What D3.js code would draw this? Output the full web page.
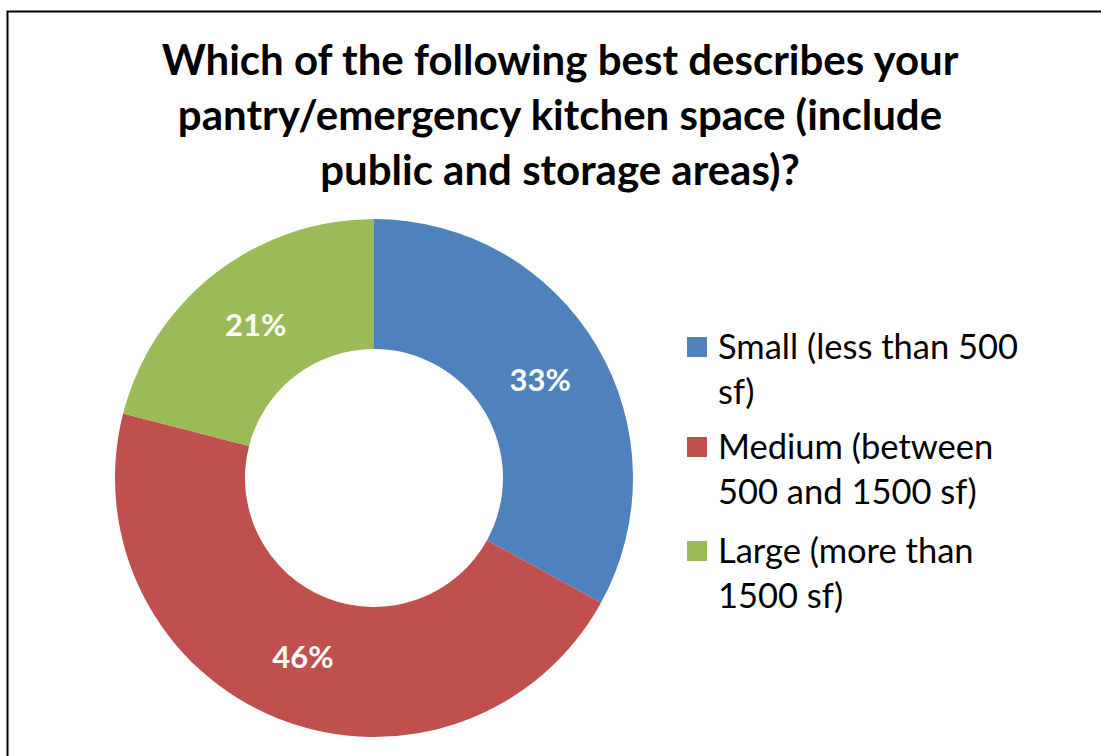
<!DOCTYPE html>
<html><head><meta charset="utf-8">
<script src="https://cdn.jsdelivr.net/npm/d3@7"></script>
<style>body{margin:0;background:#fff}svg{display:block}</style>
</head><body>
<svg id="c" width="1101" height="756"></svg>
<script>
const categories = ["Small (less than 500 sf)", "Medium (between 500 and 1500 sf)", "Large (more than 1500 sf)"];
const legendLines = [["Small (less than 500", "sf)"], ["Medium (between", "500 and 1500 sf)"], ["Large (more than", "1500 sf)"]];
const values = [33, 46, 21];
const colors = ["#4F81BD", "#C0504D", "#9BBB59"];
const titleLines = ["Which of the following best describes your", "pantry/emergency kitchen space (include", "public and storage areas)?"];

const svg = d3.select("#c");
svg.append("rect").attr("x", 7.5).attr("y", 11.5).attr("width", 1200).attr("height", 900)
  .attr("fill", "#fff").attr("stroke", "#000").attr("stroke-width", 2);

const font = "Lato, 'Open Sans', sans-serif";
svg.append("g").selectAll("text").data(titleLines).join("text")
  .attr("x", 560).attr("y", (d, i) => 75 + i * 55)
  .attr("text-anchor", "middle").attr("font-family", font).attr("font-weight", 700)
  .attr("font-size", 42).attr("fill", "#000").text(d => d);

const cx = 374, cy = 478, R = 259, r0 = 129;
const pie = d3.pie().sort(null).value(d => d);
const arcs = pie(values);
const arc = d3.arc().innerRadius(r0).outerRadius(R);
const g = svg.append("g").attr("transform", `translate(${cx},${cy})`);
g.selectAll("path").data(arcs).join("path").attr("d", arc).attr("fill", (d, i) => colors[i]);
const labelArc = d3.arc().innerRadius(193).outerRadius(193);
g.selectAll("text").data(arcs).join("text")
  .attr("transform", d => `translate(${labelArc.centroid(d)})`)
  .attr("text-anchor", "middle").attr("dy", "0.35em")
  .attr("font-family", font).attr("font-weight", 700).attr("font-size", 31).attr("fill", "#fff")
  .text(d => d.data + "%");

const leg = svg.append("g");
const lstart = [347, 447, 551];
legendLines.forEach((lines, i) => {
  leg.append("rect").attr("x", 687).attr("y", lstart[i] - 10).attr("width", 20).attr("height", 20).attr("fill", colors[i]);
  lines.forEach((t, j) => {
    leg.append("text").attr("x", 718).attr("y", lstart[i] + j * 45).attr("dy", "0.35em")
      .attr("font-family", font).attr("font-size", 34.5).attr("fill", "#000").text(t);
  });
});
</script>
</body></html>
